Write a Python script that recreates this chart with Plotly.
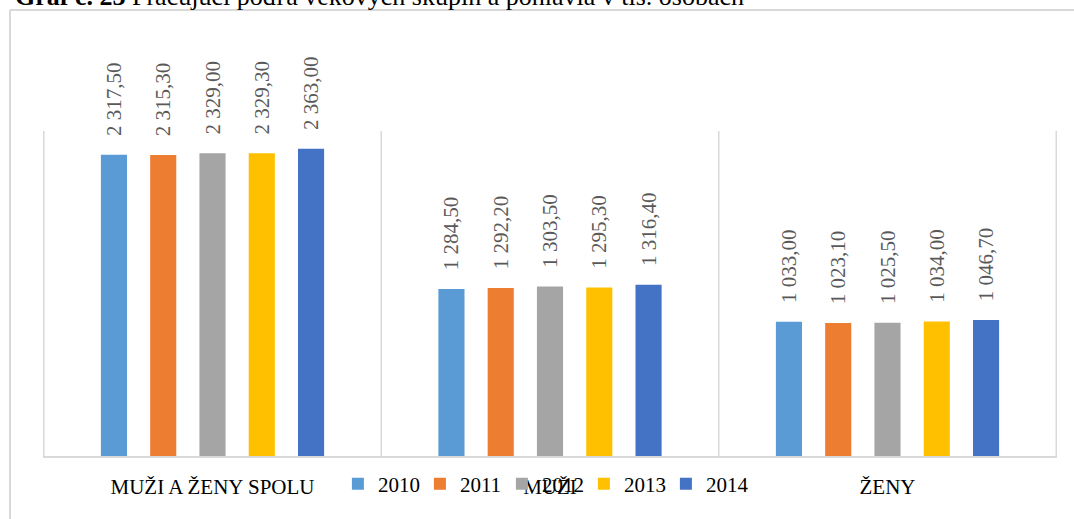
import plotly.graph_objects as go

categories = ["MUŽI A ŽENY SPOLU", "MUŽI", "ŽENY"]
years = ["2010", "2011", "2012", "2013", "2014"]
values = {
    "2010": [2317.5, 1284.5, 1033.0],
    "2011": [2315.3, 1292.2, 1023.1],
    "2012": [2329.0, 1303.5, 1025.5],
    "2013": [2329.3, 1295.3, 1034.0],
    "2014": [2363.0, 1316.4, 1046.7],
}
colors = {"2010": "#5B9BD5", "2011": "#ED7D31", "2012": "#A5A5A5",
          "2013": "#FFC000", "2014": "#4472C4"}

W, H = 1074, 519
L, R, T, B = 43, 17, 131, 63
PW, PH = W - L - R, H - T - B


def fmt(v):
    s = f"{v:,.2f}"
    ip, dp = s.split(".")
    return ip.replace(",", " ") + "," + dp


FONT = "Liberation Serif"

fig = go.Figure()
for y in years:
    fig.add_trace(go.Bar(
        name=y, x=categories, y=values[y], marker_color=colors[y],
        marker_line_width=0,
        text=["\u00a0\u00a0\u00a0" + fmt(v) for v in values[y]],
        textposition="outside", textangle=-90, constraintext="none",
        cliponaxis=False,
        textfont=dict(family=FONT, size=21, color="#595959"),
        outsidetextfont=dict(family=FONT, size=21, color="#595959"),
    ))


def px2x(px):
    return (px - L) / PW


def py2y(py):
    return (H - B - py) / PH


shapes = []
for xv in [-0.5, 0.5, 1.5, 2.5]:
    shapes.append(dict(type="line", xref="x", yref="paper", x0=xv, x1=xv,
                       y0=0, y1=1, line=dict(color="#D9D9D9", width=1.5)))
# outer chart border
shapes.append(dict(type="line", xref="paper", yref="paper",
                   x0=px2x(10), x1=px2x(10), y0=py2y(10), y1=py2y(530),
                   line=dict(color="#D9D9D9", width=2)))
shapes.append(dict(type="line", xref="paper", yref="paper",
                   x0=px2x(10), x1=px2x(1090), y0=py2y(10), y1=py2y(10),
                   line=dict(color="#D9D9D9", width=2)))

fig.update_layout(
    width=W, height=H,
    margin=dict(l=L, r=R, t=T, b=B),
    paper_bgcolor="white", plot_bgcolor="white",
    barmode="group", bargap=0.27, bargroupgap=0.47,
    font=dict(family=FONT, size=21, color="black"),
    xaxis=dict(showline=True, linecolor="#D9D9D9", linewidth=1.5,
               showgrid=False, ticks="", ticklabelstandoff=11,
               tickfont=dict(family=FONT, size=21, color="black")),
    yaxis=dict(range=[0, 2500], visible=False, showgrid=False),
    showlegend=True,
    legend=dict(orientation="h", x=0.493, xanchor="center", y=py2y(484),
                yanchor="middle", font=dict(family=FONT, size=21, color="black"),
                bgcolor="rgba(0,0,0,0)", itemwidth=30,
                entrywidth=37, entrywidthmode="pixels"),
    shapes=shapes,
    annotations=[dict(
        text="<b>Graf č. 23</b> Pracujúci podľa vekových skupín a pohlavia v tis. osobách",
        xref="paper", yref="paper", x=px2x(13), y=py2y(13), xanchor="left",
        yanchor="bottom", showarrow=False,
        font=dict(family=FONT, size=26, color="black"))],
)

fig.write_html("out.html", config={"displayModeBar": False},
               post_script="document.body.style.margin='0';")
